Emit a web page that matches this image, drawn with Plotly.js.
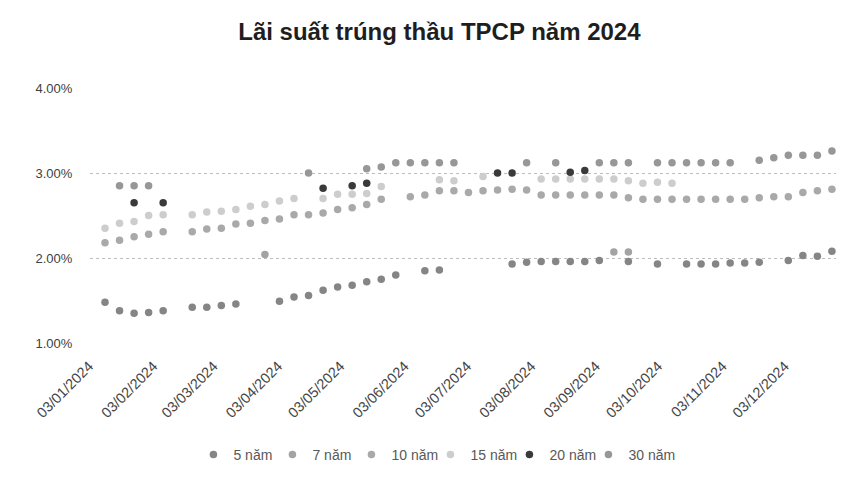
<!DOCTYPE html>
<html>
<head>
<meta charset="utf-8">
<script src="https://cdn.plot.ly/plotly-3.0.1.min.js"></script>
<style>html,body{margin:0;padding:0;background:#fff;}#chart{width:865px;height:485px;}</style>
</head>
<body>
<div id="chart"></div>
<script>
// Tick labels (x axis)
const tickDates = ['2024-01-03','2024-02-03','2024-03-03','2024-04-03','2024-05-03','2024-06-03','2024-07-03','2024-08-03','2024-09-03','2024-10-03','2024-11-03','2024-12-03'];
const tickLabels = ['03/01/2024','03/02/2024','03/03/2024','03/04/2024','03/05/2024','03/06/2024','03/07/2024','03/08/2024','03/09/2024','03/10/2024','03/11/2024','03/12/2024'];

const seriesNames = ['5 năm','7 năm','10 năm','15 năm','20 năm','30 năm'];

// 5 năm
const dates5 = ['2024-01-03','2024-01-10','2024-01-17','2024-01-24','2024-01-31','2024-02-14','2024-02-21','2024-02-28','2024-03-06','2024-03-27','2024-04-03','2024-04-10','2024-04-17','2024-04-24','2024-05-01','2024-05-08','2024-05-15','2024-05-22','2024-06-05','2024-06-12','2024-07-17','2024-07-24','2024-07-31','2024-08-07','2024-08-14','2024-08-21','2024-08-28','2024-09-11','2024-09-25','2024-10-09','2024-10-16','2024-10-23','2024-10-30','2024-11-06','2024-11-13','2024-11-27','2024-12-04','2024-12-11','2024-12-18'];
const rates5 = [1.48,1.38,1.35,1.36,1.38,1.42,1.42,1.44,1.46,1.49,1.54,1.56,1.62,1.66,1.68,1.72,1.75,1.80,1.85,1.86,1.93,1.95,1.96,1.96,1.96,1.96,1.97,1.96,1.93,1.93,1.93,1.93,1.94,1.94,1.95,1.97,2.03,2.02,2.08];

// 7 năm
const dates7 = ['2024-03-20','2024-09-04','2024-09-11'];
const rates7 = [2.04,2.07,2.07];

// 10 năm
const dates10 = ['2024-01-03','2024-01-10','2024-01-17','2024-01-24','2024-01-31',
  '2024-02-14','2024-02-21','2024-02-28','2024-03-06','2024-03-13','2024-03-20','2024-03-27','2024-04-03','2024-04-10','2024-04-17','2024-04-24','2024-05-01','2024-05-08','2024-05-15',
  '2024-05-29','2024-06-05','2024-06-12','2024-06-19','2024-06-26','2024-07-03','2024-07-10','2024-07-17','2024-07-24','2024-07-31','2024-08-07','2024-08-14','2024-08-21','2024-08-28','2024-09-04','2024-09-11','2024-09-18','2024-09-25','2024-10-02','2024-10-09','2024-10-16','2024-10-23','2024-10-30','2024-11-06','2024-11-13','2024-11-20','2024-11-27','2024-12-04','2024-12-11','2024-12-18'];
const rates10 = [2.18,2.21,2.25,2.28,2.31,
  2.31,2.34,2.35,2.40,2.41,2.44,2.46,2.51,2.51,2.53,2.57,2.59,2.63,2.69,
  2.72,2.74,2.79,2.79,2.77,2.79,2.80,2.81,2.80,2.74,2.74,2.74,2.74,2.74,2.74,2.71,2.69,2.69,2.69,2.69,2.69,2.69,2.69,2.69,2.71,2.72,2.72,2.77,2.79,2.81];

// 15 năm
const dates15 = ['2024-01-03','2024-01-10','2024-01-17','2024-01-24','2024-01-31',
  '2024-02-14','2024-02-21','2024-02-28','2024-03-06','2024-03-13','2024-03-20','2024-03-27','2024-04-03',
  '2024-04-17','2024-04-24','2024-05-01','2024-05-08','2024-05-15',
  '2024-06-12','2024-06-19','2024-07-03',
  '2024-07-31','2024-08-07','2024-08-14','2024-08-21','2024-08-28','2024-09-04','2024-09-11','2024-09-18','2024-09-25','2024-10-02'];
const rates15 = [2.35,2.41,2.43,2.50,2.51,
  2.51,2.54,2.55,2.57,2.61,2.63,2.67,2.70,
  2.70,2.75,2.75,2.76,2.84,
  2.92,2.91,2.96,
  2.93,2.93,2.93,2.93,2.93,2.93,2.91,2.88,2.89,2.88];

// 20 năm
const dates20 = ['2024-01-17','2024-01-31','2024-04-17','2024-05-01','2024-05-08','2024-07-10','2024-07-17','2024-08-14','2024-08-21'];
const rates20 = [2.65,2.65,2.82,2.85,2.88,3.00,3.00,3.01,3.03];

// 30 năm
const dates30 = ['2024-01-10','2024-01-17','2024-01-24','2024-04-10',
  '2024-05-08','2024-05-15','2024-05-22','2024-05-29','2024-06-05','2024-06-12','2024-06-19',
  '2024-07-24','2024-08-07','2024-08-28','2024-09-04','2024-09-11',
  '2024-09-25','2024-10-02','2024-10-09','2024-10-16','2024-10-23','2024-10-30',
  '2024-11-13','2024-11-20','2024-11-27','2024-12-04','2024-12-11','2024-12-18'];
const rates30 = [2.85,2.85,2.85,3.00,
  3.05,3.07,3.12,3.12,3.12,3.12,3.12,
  3.12,3.12,3.12,3.12,3.12,
  3.12,3.12,3.12,3.12,3.12,3.12,
  3.15,3.18,3.21,3.21,3.21,3.26];

const allDates = [dates5, dates7, dates10, dates15, dates20, dates30];
const allRates = [rates5, rates7, rates10, rates15, rates20, rates30];
const colors = ['#858585','#a3a3a3','#a9a9a9','#cdcdcd','#3a3a3a','#979797'];

const traces = seriesNames.map((name, i) => ({
  type: 'scatter',
  mode: 'markers',
  name: name,
  x: allDates[i],
  y: allRates[i],
  marker: {size: 7.5, color: colors[i], line: {width: 0}},
  legendwidth: i === seriesNames.length - 1 ? 52 : 34,
  hoverinfo: 'x+y+name'
}));

const layout = {
  width: 865,
  height: 485,
  paper_bgcolor: '#ffffff',
  plot_bgcolor: '#ffffff',
  margin: {l: 90, r: 29, t: 88, b: 142},
  font: {family: 'Liberation Sans, Arial, sans-serif', color: '#404040'},
  title: {
    text: 'Lãi suất trúng thầu TPCP năm 2024',
    font: {family: 'Liberation Sans, Arial, sans-serif', size: 24, color: '#1e1e1e', weight: 'bold'},
    xref: 'container', x: 0.508, xanchor: 'center',
    yref: 'container', y: 0.935, yanchor: 'middle'
  },
  xaxis: {
    type: 'date',
    range: ['2023-12-26 18:40', '2024-12-19 23:00'],
    tickmode: 'array',
    tickvals: tickDates,
    ticktext: tickLabels,
    tickangle: -45,
    tickfont: {size: 14.5, color: '#454545'},
    ticklabelshift: -16,
    ticklabelstandoff: 11,
    showgrid: false,
    zeroline: false,
    showline: false,
    ticks: ''
  },
  yaxis: {
    range: [1, 4],
    dtick: 1,
    tick0: 1,
    tickformat: '.2f',
    ticksuffix: '%',
    tickfont: {size: 13, color: '#404040'},
    showgrid: true,
    gridcolor: '#bdbdbd',
    griddash: 'dot',
    gridwidth: 1,
    zeroline: false,
    showline: false,
    ticks: 'outside',
    ticklen: 14,
    tickcolor: 'rgba(0,0,0,0)'
  },
  showlegend: true,
  legend: {
    orientation: 'h',
    xref: 'container', x: 0.508, xanchor: 'center',
    yref: 'container', y: 0.062, yanchor: 'middle',
    font: {size: 14, color: '#595959'},
    bgcolor: 'rgba(0,0,0,0)'
  }
};

Plotly.newPlot('chart', traces, layout, {displayModeBar: false, staticPlot: true});
</script>
</body>
</html>
